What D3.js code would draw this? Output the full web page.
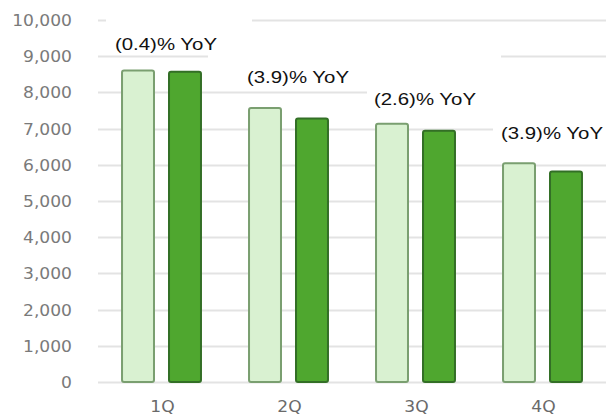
<!DOCTYPE html>
<html>
<head>
<meta charset="utf-8">
<script src="https://cdn.jsdelivr.net/npm/d3@7/dist/d3.min.js"></script>
<style>
  html, body { margin: 0; padding: 0; background: #fff; }
  svg { display: block; }
</style>
</head>
<body>
<svg id="chart" width="608" height="417"></svg>
<script>
// ---- data ----
const categories = ["1Q", "2Q", "3Q", "4Q"];
const seriesPrior = [8630, 7600, 7160, 6070];
const seriesCurrent = [8595, 7310, 6970, 5840];
const yoyLabels = ["(0.4)% YoY", "(3.9)% YoY", "(2.6)% YoY", "(3.9)% YoY"];
const yTicks = [0, 1000, 2000, 3000, 4000, 5000, 6000, 7000, 8000, 9000, 10000];

// ---- layout ----
const plotLeft = 98, plotRight = 606, plotTop = 20, plotBottom = 382;
const svg = d3.select("#chart");

const x = d3.scaleBand().domain(categories).range([plotLeft, plotRight]).padding(0);
const xSub = d3.scaleBand().domain([0, 1]).range([0, x.bandwidth()])
  .paddingInner(0.277).paddingOuter(0.49);
const y = d3.scaleLinear().domain([0, 10000]).range([plotBottom, plotTop]);

// gridlines
svg.append("g").selectAll("line").data(yTicks).join("line")
  .attr("x1", plotLeft).attr("x2", plotRight)
  .attr("y1", d => Math.round(y(d)) + 0.5).attr("y2", d => Math.round(y(d)) + 0.5)
  .attr("stroke", "#e3e3e3").attr("stroke-width", 2);

// y tick labels
svg.append("g").selectAll("text").data(yTicks).join("text")
  .attr("transform", d => `translate(72,${y(d) + 6}) scale(1.07,1)`)
  .attr("text-anchor", "end")
  .attr("font-family", "DejaVu Sans, Verdana, sans-serif")
  .attr("font-size", 16)
  .attr("fill", "#7a7a7a")
  .text(d => d3.format(",")(d));

// x labels
svg.append("g").selectAll("text").data(categories).join("text")
  .attr("transform", d => `translate(${x(d) + x.bandwidth() / 2 + 1},412) scale(1.07,1)`)
  .attr("text-anchor", "middle")
  .attr("font-family", "DejaVu Sans, Verdana, sans-serif")
  .attr("font-size", 16)
  .attr("fill", "#6a6a6a")
  .text(d => d);

// bars
const data = categories.map((c, i) => ({ c, prior: seriesPrior[i], cur: seriesCurrent[i] }));
const g = svg.append("g");
g.selectAll("rect.prior").data(data).join("rect")
  .attr("class", "prior")
  .attr("x", d => x(d.c) + xSub(0) + 1)
  .attr("y", d => y(d.prior) + 1)
  .attr("width", xSub.bandwidth() - 2)
  .attr("height", d => plotBottom - y(d.prior) - 1)
  .attr("rx", 2)
  .attr("fill", "#d9f1d1")
  .attr("stroke", "#7a9f70")
  .attr("stroke-width", 2);
g.selectAll("rect.cur").data(data).join("rect")
  .attr("class", "cur")
  .attr("x", d => x(d.c) + xSub(1) + 1)
  .attr("y", d => y(d.cur) + 1)
  .attr("width", xSub.bandwidth() - 2)
  .attr("height", d => plotBottom - y(d.cur) - 1)
  .attr("rx", 2)
  .attr("fill", "#4fa72f")
  .attr("stroke", "#336f26")
  .attr("stroke-width", 2);

// label boxes (white backgrounds hiding gridlines) and labels
const labelBoxes = [
  { x0: 106, x1: 252, y0: 16, y1: 52, bx: 166, by: 50 },
  { x0: 208, x1: 367, y0: 53, y1: 88, bx: 298, by: 83 },
  { x0: 367, x1: 501, y0: 53, y1: 111, bx: 425, by: 105 },
  { x0: 493, x1: 608, y0: 88, y1: 144, bx: 552, by: 139 }
];
svg.append("g").selectAll("rect").data(labelBoxes).join("rect")
  .attr("x", d => d.x0).attr("y", d => d.y0)
  .attr("width", d => d.x1 - d.x0).attr("height", d => d.y1 - d.y0)
  .attr("fill", "#fff");
svg.append("g").selectAll("text").data(yoyLabels).join("text")
  .attr("transform", (d, i) => `translate(${labelBoxes[i].bx},${labelBoxes[i].by}) scale(1.2,1)`)
  .attr("text-anchor", "middle")
  .attr("font-family", "Liberation Sans, Arial, sans-serif")
  .attr("font-size", 17)
  .attr("fill", "#111")
  .text(d => d);
</script>
</body>
</html>
